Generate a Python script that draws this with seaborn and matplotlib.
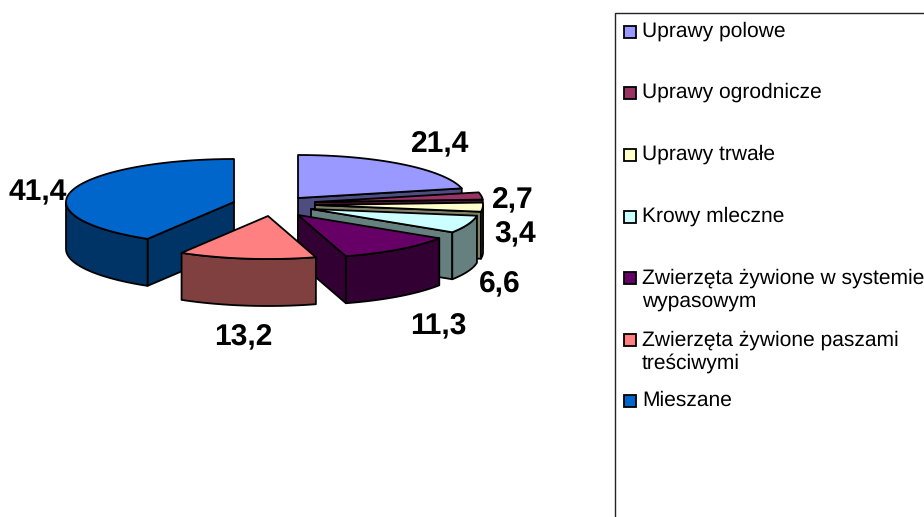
import numpy as np
import matplotlib
matplotlib.use("Agg")
import matplotlib.pyplot as plt
from matplotlib.patches import Rectangle
import seaborn as sns

categories = ["Uprawy polowe", "Uprawy ogrodnicze", "Uprawy trwałe", "Krowy mleczne",
              "Zwierzęta żywione w systemie\nwypasowym",
              "Zwierzęta żywione paszami\ntreściwymi", "Mieszane"]
values = [21.4, 2.7, 3.4, 6.6, 11.3, 13.2, 41.4]
value_labels = ["21,4", "2,7", "3,4", "6,6", "11,3", "13,2", "41,4"]
colors = ["#9999FF", "#993366", "#FFFFCC", "#CCFFFF", "#660066", "#FF8080", "#0066CC"]

# layout (pixels)
apex = [(298, 198), (315, 202), (315, 205), (311, 209), (298, 215), (268, 216), (234, 202)]
label_xy = [(440, 145), (513, 201), (515, 235), (500, 285), (438, 327), (243, 338), (38, 193)]
legend_y = [31, 92, 154, 216, 290, 352, 400]
draw_order = [0, 1, 2, 3, 4, 6, 5]
A, B, DEPTH = 168, 43, 47

sns.set_theme(style="white")
plt.rcParams["font.family"] = ["Liberation Sans", "DejaVu Sans"]
plt.rcParams["text.hinting"] = "no_hinting"
plt.rcParams["text.hinting_factor"] = 1
fig = plt.figure(figsize=(9.24, 5.17), dpi=100)
ax = fig.add_axes([0, 0, 1, 1])
ax.set_xlim(0, 924)
ax.set_ylim(517, 0)
ax.axis("off")

edges = np.cumsum([0] + values) / sum(values) * 2 * np.pi
dark = lambda c: tuple(0.5 * v for v in matplotlib.colors.to_rgb(c))
LW = 1.3


def rim(c, t):
    return np.column_stack([c[0] + A * np.sin(t), c[1] - B * np.cos(t)])


def shade(pts, color, z):
    ax.fill(pts[:, 0], pts[:, 1], facecolor=color, edgecolor="black", lw=LW, joinstyle="round", zorder=z)


for order, i in enumerate(draw_order):
    c = np.array(apex[i], float)
    t0, t1 = edges[i], edges[i + 1]
    t = np.linspace(t0, t1, 80)
    down = np.array([0, DEPTH])
    z = 2 + order
    wall = dark(colors[i])
    for th, visible in ((t0, np.sin(t0) < 0), (t1, np.sin(t1) > 0)):
        if visible:
            p = rim(c, np.array([th]))[0]
            shade(np.array([c, p, p + down, c + down]), wall, z)
    front = t[np.cos(t) < 0]
    if len(front) > 1:
        r = rim(c, front)
        shade(np.vstack([r, (r + down)[::-1]]), wall, z)
    shade(np.vstack([[c], rim(c, t)]), colors[i], z)

for (x, y), s in zip(label_xy, value_labels):
    ax.text(x, y, s, ha="center", va="center", fontsize=21.5, fontweight="bold", color="black", zorder=20)

ax.add_patch(Rectangle((615, 13), 400, 600, facecolor="white", edgecolor="#222222", lw=1, zorder=1))
for name, col, y in zip(categories, colors, legend_y):
    first = y if "\n" not in name else y - 13
    ax.add_patch(Rectangle((623.5, first - 5.5), 12, 12, facecolor=col, edgecolor="black", lw=1.3, zorder=3))
    ax.text(642, y, name, ha="left", va="center", fontsize=15.2, color="black", linespacing=1.22, zorder=3)

fig.savefig("out.png", dpi=100, facecolor="white")
